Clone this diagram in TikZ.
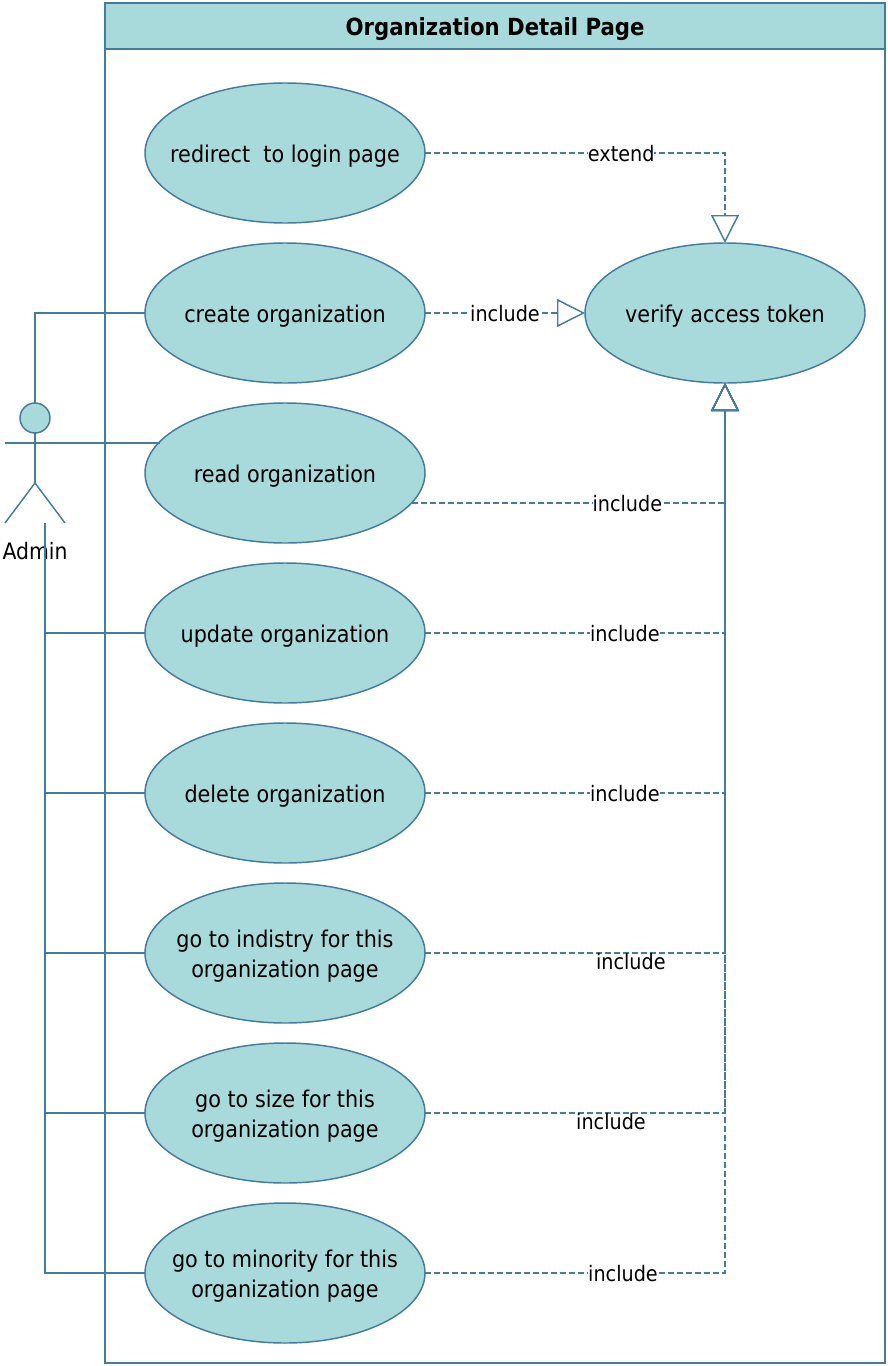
\documentclass[tikz,border=0pt]{standalone}
\usepackage{fontspec}
\setmainfont{DejaVu Sans Condensed}
\usetikzlibrary{shapes.geometric,arrows.meta}
\definecolor{lanefill}{HTML}{A8DADC}
\definecolor{linecol}{HTML}{457B9D}
\tikzset{
    usecase/.style={ellipse,draw=linecol,fill=lanefill,minimum width=210pt,minimum height=105pt,inner xsep=-25pt,inner ysep=0pt,outer sep=0pt,align=center,font=\fontsize{17.3}{22.5}\selectfont,execute at begin node={\rule{0pt}{17.5pt}}},
    twoline/.style={text height=41pt},
    lane/.style={rectangle,draw=linecol,inner sep=0pt},
    link/.style={draw=linecol},
    dashlink/.style={draw=linecol,dash pattern=on 4.5pt off 2.25pt,-{Triangle[open,length=21pt,width=21pt]}},
    linklabel/.style={fill=white,inner sep=0pt,yshift=-0.75pt,font=\fontsize{16}{16}\selectfont},
}
\begin{document}
\begin{tikzpicture}[x=0.75pt,y=-0.75pt,line width=1.1pt]
    \useasboundingbox (0,0) rectangle (888,1366);

    \node[lane,minimum width=585pt,minimum height=1020pt] (page) at (495,683) {};
    \node[lane,fill=lanefill,minimum width=585pt,minimum height=34.5pt,text height=18pt,text depth=4.2pt,font=\fontsize{17.7}{18}\selectfont\bfseries] (title) at (495,26) {Organization Detail Page};

    \node[usecase] (redirect) at (285,153)  {redirect\ \ to login page};
    \node[usecase] (create)   at (285,313)  {create organization};
    \node[usecase] (read)     at (285,473)  {read organization};
    \node[usecase] (update)   at (285,633)  {update organization};
    \node[usecase] (delete)   at (285,793)  {delete organization};
    \node[usecase,twoline] (indistry) at (285,953)  {go to indistry for this\\organization page};
    \node[usecase,twoline] (size)     at (285,1113) {go to size for this\\organization page};
    \node[usecase,twoline] (minority) at (285,1273) {go to minority for this\\organization page};
    \node[usecase] (verify)   at (725,313)  {verify access token};

    % actor
    \node[circle,draw=linecol,fill=lanefill,minimum size=22.5pt,inner sep=0pt,outer sep=0pt] (head) at (35,418) {};
    \coordinate (hip) at (35,483);
    \coordinate (handl) at (5,443);
    \coordinate (footl) at (5,523);
    \coordinate (footr) at (65,523);
    \coordinate (adminfoot) at (45,523);
    \coordinate (readinc) at (0,503);
    \draw[link] (head) -- (hip);
    \draw[link] (footl) -- (hip) -- (footr);
    \node[font=\fontsize{17}{18}\selectfont,inner sep=0pt] (admin) at (35,551) {Admin};

    \draw[link] (create.west) -| (head.north);
    \draw[link] (handl) -- (handl -| read.166.7);
    \foreach \uc in {update,delete,indistry,size,minority}
        \draw[link] (\uc.west) -| (adminfoot);

    \draw[dashlink] (redirect.east) -| node[linklabel,pos=0.327] (lblredirect) {extend} (verify.north);
    \draw[dashlink] (create.east) -- node[linklabel] (lblcreate) {include} (verify.west);
    \draw[dashlink] (read.-13.3 |- readinc) -| node[linklabel,pos=0.344] (lblread) {include} (verify.south);
    \draw[dashlink] (update.east) -| node[linklabel,pos=0.333] (lblupdate) {include} (verify.south);
    \draw[dashlink] (delete.east) -| node[linklabel,pos=0.333] (lbldelete) {include} (verify.south);
    \draw[dashlink] (indistry.east) -| node[linklabel,pos=0.343,yshift=-6pt] (lblindistry) {include} (verify.south);
    \draw[dashlink] (size.east) -| node[linklabel,pos=0.31,yshift=-6pt] (lblsize) {include} (verify.south);
    \draw[dashlink] (minority.east) -| node[linklabel,pos=0.33] (lblminority) {include} (verify.south);
\end{tikzpicture}
\end{document}
